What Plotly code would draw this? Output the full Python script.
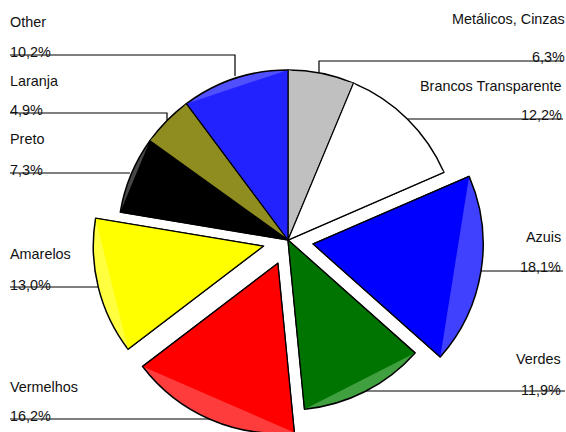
import math
import plotly.graph_objects as go

categories = ["Metálicos, Cinzas", "Brancos Transparente", "Azuis", "Verdes", "Vermelhos",
              "Amarelos", "Preto", "Laranja", "Other"]
values = [6.3, 12.2, 18.1, 11.9, 16.2, 13.0, 7.3, 4.9, 10.2]
value_labels = ["6,3%", "12,2%", "18,1%", "11,9%", "16,2%", "13,0%", "7,3%", "4,9%", "10,2%"]
pulls = [0, 0, 0.15, 0, 0.15, 0.15, 0, 0, 0]
face_colors = ["#C0C0C0", "#FFFFFF", "#0000FF", "#007400", "#FF0000", "#FFFF00", "#000000", "#8F8C20", "#2222FF"]
rim_colors = ["#C0C0C0", "#FFFFFF", "#4040FF", "#40A040", "#FF3C3C", "#FFFF40", "#484848", "#8F8C20", "#5050FF"]

W, H = 566, 480
CX, CY, R = 288, 240, 170
AVAIL = R * (1 + max(pulls))


def px(x):
    return x / W


def py(y):
    return 1 - y / H


fig = go.Figure(go.Pie(
    labels=categories, values=values, pull=pulls, sort=False, direction="clockwise", rotation=0,
    marker=dict(colors=rim_colors, line=dict(color="#000000", width=1.5)),
    textinfo="none", hoverinfo="label+percent",
    domain=dict(x=[px(CX - AVAIL), px(CX + AVAIL)], y=[py(CY + AVAIL), py(CY - AVAIL)]),
))

shapes = []
total = sum(values)
cum = 0.0
for v, pull, face in zip(values, pulls, face_colors):
    a0 = 2 * math.pi * cum / total
    a1 = 2 * math.pi * (cum + v) / total
    mid = (a0 + a1) / 2
    cum += v
    ax = CX + R * pull * math.sin(mid)
    ay = CY - R * pull * math.cos(mid)
    p0 = (ax + R * math.sin(a0), ay - R * math.cos(a0))
    p1 = (ax + R * math.sin(a1), ay - R * math.cos(a1))
    tri = [(ax, ay), p0, p1]
    path = "M " + " L ".join(f"{px(x):.5f},{py(y):.5f}" for x, y in tri) + " Z"
    shapes.append(dict(type="path", xref="paper", yref="paper", path=path, fillcolor=face,
                       line=dict(width=0), layer="above"))
    edge = [p0, (ax, ay), p1]
    path = "M " + " L ".join(f"{px(x):.5f},{py(y):.5f}" for x, y in edge)
    shapes.append(dict(type="path", xref="paper", yref="paper", path=path,
                       line=dict(color="#000000", width=1.2), layer="above"))

leaders = [
    [(319, 75), (319, 61), (563, 61)],
    [(408, 119), (563, 119)],
    [(480, 271), (563, 271)],
    [(365, 391), (565, 391)],
    [(10, 419), (215, 419)],
    [(10, 287), (98, 287)],
    [(10, 173), (130, 173)],
    [(10, 113), (167, 113), (167, 120)],
    [(10, 55), (235, 55), (235, 76)],
]
for pts in leaders:
    path = "M " + " L ".join(f"{px(x):.5f},{py(y):.5f}" for x, y in pts)
    shapes.append(dict(type="path", xref="paper", yref="paper", path=path,
                       line=dict(color="#000000", width=1.2), layer="below"))

# label anchor: x, side, name y, value y
label_pos = [
    (567, "right", 19, 57), (564, "right", 86, 115), (563, "right", 237, 267), (563, "right", 359, 390),
    (8, "left", 387, 416), (8, "left", 254, 285), (8, "left", 139, 170), (8, "left", 81, 110),
    (8, "left", 22, 52),
]
annotations = []
for name, val, (x, side, yn, yv) in zip(categories, value_labels, label_pos):
    for txt, y in ((name, yn), (val, yv)):
        annotations.append(dict(text=txt, x=px(x), y=py(y), xref="paper", yref="paper",
                                xanchor=side, yanchor="middle", showarrow=False,
                                font=dict(family="Liberation Sans", size=14.4, color="#111111")))

fig.update_layout(
    width=W, height=H, margin=dict(l=0, r=0, t=0, b=0), showlegend=False,
    paper_bgcolor="#FFFFFF", plot_bgcolor="#FFFFFF", shapes=shapes, annotations=annotations,
)
fig.write_html("out.html", config={"displayModeBar": False},
               post_script="document.body.style.margin='0';document.body.style.overflow='hidden';document.documentElement.style.overflow='hidden';")
